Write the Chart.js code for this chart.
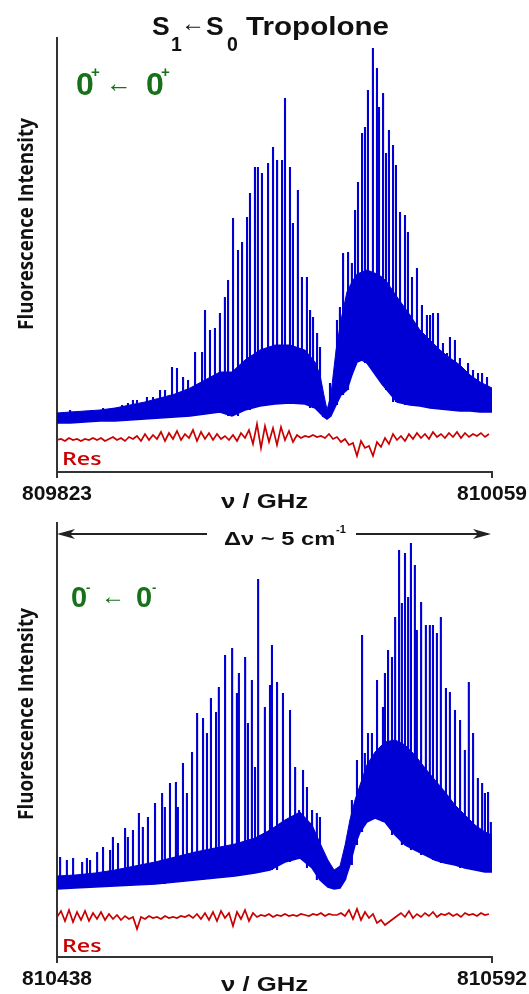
<!DOCTYPE html>
<html>
<head>
<meta charset="utf-8">
<script src="https://cdn.jsdelivr.net/npm/chart.js@4.4.1/dist/chart.umd.min.js"></script>
<style>
  body { margin: 0; background: #fff; }
  #fig { position: relative; width: 529px; height: 994px; overflow: hidden; font-family: "Liberation Sans", Arial, sans-serif; }
  canvas { position: absolute; left: 0; }
  .t { position: absolute; line-height: 1; white-space: nowrap; font-weight: bold; color: #111; transform-origin: 0 0; }
  .g { color: #17701a; }
  .r { color: #c80000; font-family: "Open Sans", Arial, sans-serif; font-weight: 600; }
  .v { transform-origin: 50% 50%; font-family: "Open Sans", Arial, sans-serif; }
</style>
</head>
<body>
<div id="fig">
  <canvas id="topChart" width="529" height="510" style="top:0"></canvas>
  <canvas id="botChart" width="529" height="510" style="top:485px"></canvas>

  <div class="t" style="left:152px;top:12.5px;font-size:26.5px">S</div>
  <div class="t" style="left:171px;top:35.4px;font-size:19.5px">1</div>
  <div class="t" style="left:181px;top:10.6px;font-size:24px">←</div>
  <div class="t" style="left:206px;top:12.5px;font-size:26.5px">S</div>
  <div class="t" style="left:227px;top:35.4px;font-size:19.5px">0</div>
  <div class="t fit" data-w="143" style="left:246px;top:12.5px;font-size:26.5px">Tropolone</div>

  <div class="t g" style="left:76px;top:67.8px;font-size:32px">0</div>
  <div class="t g" style="left:91px;top:64px;font-size:15px">+</div>
  <div class="t g" style="left:106px;top:69.5px;font-size:26px">←</div>
  <div class="t g" style="left:146px;top:67.8px;font-size:32px">0</div>
  <div class="t g" style="left:161px;top:64px;font-size:15px">+</div>

  <div class="t g" style="left:71px;top:583.4px;font-size:29px">0</div>
  <div class="t g" style="left:86px;top:581px;font-size:13px">-</div>
  <div class="t g" style="left:101px;top:583.6px;font-size:24px">←</div>
  <div class="t g" style="left:136px;top:583.4px;font-size:29px">0</div>
  <div class="t g" style="left:152px;top:581px;font-size:13px">-</div>

  <div class="t v rot" style="left:25px;top:224px;font-size:21px">Fluorescence Intensity</div>
  <div class="t v rot" style="left:25px;top:714px;font-size:21px">Fluorescence Intensity</div>

  <div class="t r fit" data-w="40" style="left:62px;top:448.7px;font-size:18px">Res</div>
  <div class="t r fit" data-w="40" style="left:62px;top:935.7px;font-size:18px">Res</div>

  <div class="t fit" data-w="87" style="left:221px;top:490.2px;font-size:21px">ν / GHz</div>
  <div class="t fit" data-w="87" style="left:221px;top:973.2px;font-size:21px">ν / GHz</div>

  <div class="t fit" data-w="112" style="left:224px;top:529.7px;font-size:18px">Δν ~ 5 cm</div>
  <div class="t" style="left:336px;top:523.6px;font-size:11px">-1</div>

  <svg style="position:absolute;left:0;top:0" width="529" height="994">
    <line x1="60" y1="534" x2="207" y2="534" stroke="#222" stroke-width="2"/>
    <polygon points="57,534 75,529 70,534 75,539" fill="#222"/>
    <line x1="356" y1="534" x2="488" y2="534" stroke="#222" stroke-width="2"/>
    <polygon points="491,534 473,529 478,534 473,539" fill="#222"/>
  </svg>
</div>

<script>
// ---- upper panel: 0+ <- 0+ ----
const topOriginGHz = 809823;
const topSpanGHz = 236;
// resolved lines: position (GHz above origin) and peak intensity (a.u.)
const topLineGHz = [7.1, 13.6, 19.0, 25.0, 30.4, 35.3, 38.5, 41.2,
  43.4, 48.8, 52.1, 55.9, 58.6, 62.4, 65.1, 68.4, 71.1, 74.9,
  78.7, 80.3, 83.0, 85.7, 88.4, 91.1, 92.8, 95.5, 98.2, 100.4,
  103.1, 104.7, 107.4, 109.0, 111.2, 114.5, 117.2, 119.4, 122.1, 123.7,
  126.4, 128.0, 130.7, 132.9, 135.6, 137.3, 138.9, 141.1, 142.7, 144.3,
  148.1, 151.9, 153.5, 155.2, 157.9, 160.0, 161.7, 163.3, 165.5, 167.1,
  168.7, 171.4, 173.6, 174.7, 176.9, 178.5, 180.1, 182.3, 183.9, 186.1,
  188.8, 190.4, 192.6, 195.3, 198.0, 200.7, 202.4, 204.0, 206.7, 209.4,
  211.6, 213.2, 215.9, 218.6, 220.3, 223.0, 225.7, 228.4, 230.6, 233.3, 234.9];
const topLineInt = [62, 60, 62, 64, 64, 67, 69, 72,
  72, 75, 75, 82, 82, 105, 104, 95, 92, 120,
  120, 162, 142, 144, 159, 175, 192, 254, 222, 230,
  255, 279, 305, 305, 299, 309, 325, 312, 312, 374,
  305, 249, 282, 195, 195, 162, 155, 139, 125, 75,
  89, 152, 165, 219, 220, 209, 262, 290, 339, 345,
  382, 424, 404, 365, 379, 319, 342, 327, 307, 260,
  257, 240, 195, 204, 167, 157, 157, 159, 159, 129,
  119, 135, 132, 114, 95, 109, 102, 99, 99, 95, 84];
// unresolved dense part: lower and upper edge
const topBandGHz = [0, 7.1, 15.2, 23.3, 31.5, 39.6, 47.7, 55.9, 64.0, 72.2, 80.3, 88.4, 94.9, 102.0, 110.1,
  118.3, 126.4, 134.5, 140.0, 142.7, 144.8, 146.5, 148.6, 151.4, 154.1, 157.3, 160.0, 162.8, 165.5, 168.2,
  170.9, 173.6, 176.3, 179.0, 184.5, 191.5, 196.9, 202.4, 207.8, 213.2, 218.6, 224.1, 229.5, 236.0];
const topBandLow = [49, 49, 50, 51, 51, 52, 53, 54, 55, 56, 58, 60, 56, 62, 66,
  68, 69, 68, 64, 59, 55, 53, 56, 67, 77, 82, 97, 110, 112, 109,
  102, 95, 88, 82, 70, 67, 66, 64, 63, 62, 61, 61, 60, 60];
const topBandHigh = [59, 60, 61, 62, 64, 67, 70, 74, 78, 84, 92, 100, 100, 112, 122,
  127, 127, 122, 110, 97, 77, 62, 77, 122, 152, 180, 190, 198, 200, 202,
  200, 198, 195, 190, 175, 157, 142, 132, 122, 114, 107, 97, 90, 84];
// fit residual, sampled every 2.17 GHz
const topResStepGHz = 2.17;
const topRes = [32, 33, 31, 34, 32, 33, 31, 33, 32, 34,
  32, 34, 31, 33, 35, 32, 34, 31, 35, 33,
  36, 31, 38, 32, 37, 33, 40, 31, 39, 33,
  41, 32, 38, 34, 42, 31, 40, 33, 39, 32,
  38, 33, 36, 32, 37, 31, 39, 34, 42, 28,
  48, 24, 46, 30, 44, 27, 45, 32, 41, 30,
  37, 34, 36, 35, 37, 35, 36, 34, 38, 33,
  35, 30, 33, 27, 29, 16, 31, 24, 26, 16,
  30, 25, 34, 28, 38, 32, 36, 31, 38, 33,
  39, 34, 38, 33, 40, 35, 38, 34, 39, 35,
  40, 34, 39, 35, 38, 36, 39, 35, 38];

// ---- lower panel: 0- <- 0- ----
const botOriginGHz = 810438;
const botSpanGHz = 154;
const botLineGHz = [1.1, 3.5, 5.7, 8.9, 10.6, 11.7, 14.2, 16.3, 18.8, 19.8,
  21.6, 24.1, 25.1, 26.9, 29.0, 30.4, 32.2, 34.7, 37.2, 38.2,
  40.0, 42.1, 42.8, 44.6, 46.0, 47.8, 49.6, 51.7, 53.1, 54.5,
  56.3, 57.3, 59.5, 62.0, 63.7, 64.4, 66.6, 67.6, 69.0, 70.1,
  71.2, 73.6, 75.4, 76.1, 77.9, 80.0, 82.5, 84.3, 85.7, 87.1,
  88.5, 90.3, 92.0, 93.1, 94.2, 102.0, 104.4, 106.2, 108.0, 109.0,
  110.1, 111.5, 113.3, 115.4, 116.1, 117.2, 118.6, 119.7, 121.1, 122.1,
  123.2, 124.3, 125.3, 126.7, 127.4, 128.9, 130.6, 132.0, 133.1, 134.5,
  135.9, 137.7, 139.1, 140.9, 142.7, 144.4, 145.8, 147.3, 149.0, 150.5,
  151.5, 152.6, 153.6];
const botLineInt = [100, 97, 99, 95, 99, 97, 105, 110, 107, 120,
  114, 129, 120, 127, 144, 130, 140, 154, 164, 150,
  174, 175, 150, 194, 164, 205, 244, 239, 224, 259,
  245, 270, 302, 309, 264, 284, 300, 234, 277, 190,
  378, 250, 272, 312, 275, 264, 247, 190, 147, 187,
  170, 147, 144, 140, 104, 104, 157, 197, 322, 204,
  224, 224, 277, 250, 284, 307, 300, 340, 407, 354,
  404, 360, 414, 392, 327, 355, 332, 332, 332, 324,
  340, 269, 265, 247, 237, 207, 275, 224, 179, 174,
  164, 165, 135];
const botBandGHz = [0, 6.4, 13.5, 20.5, 27.6, 34.7, 41.8, 48.9, 55.9, 63.0, 70.1, 75.4, 80.7, 86.0, 90.3,
  93.1, 95.9, 98.1, 100.2, 102.0, 103.7, 105.5, 107.3, 109.7, 112.6, 116.1, 119.7, 123.2, 126.7, 130.3,
  133.8, 137.4, 140.9, 144.4, 148.0, 151.5, 154.0];
const botBandLow = [68, 69, 70, 71, 72, 73, 75, 77, 79, 81, 84, 87, 95, 99, 89,
  77, 70, 68, 69, 77, 92, 112, 125, 135, 139, 135, 122, 112, 107, 102,
  97, 94, 92, 89, 87, 85, 85];
const botBandHigh = [81, 82, 84, 87, 91, 95, 100, 105, 109, 113, 119, 127, 137, 145, 132,
  114, 97, 87, 91, 112, 137, 157, 172, 192, 205, 215, 217, 212, 202, 189,
  177, 165, 152, 142, 132, 125, 122];
const botResStepGHz = 1.416;
const botRes = [40, 46, 36, 47, 35, 45, 37, 46, 36, 44,
  38, 45, 37, 43, 38, 42, 37, 41, 38, 40,
  28, 40, 38, 41, 39, 40, 38, 41, 39, 40,
  39, 41, 40, 42, 39, 43, 38, 44, 37, 45,
  36, 46, 39, 44, 31, 45, 38, 47, 36, 44,
  40, 42, 41, 43, 40, 42, 41, 43, 41, 42,
  41, 43, 42, 41, 43, 42, 44, 41, 43, 42,
  42, 44, 41, 47, 38, 48, 37, 45, 39, 43,
  34, 37, 32, 35, 38, 41, 44, 40, 46, 39,
  43, 40, 44, 41, 45, 40, 43, 42, 44, 41,
  43, 40, 44, 42, 43, 41, 44, 42, 43];

const yMax = 434;
const BLUE = '#0000d4';
const RED = '#c80000';

Chart.defaults.font.family = '"Liberation Sans", Arial, sans-serif';

function nearestIndex(arr, x) {
  let best = 0;
  for (let i = 1; i < arr.length; i++) {
    if (Math.abs(arr[i] - x) < Math.abs(arr[best] - x)) best = i;
  }
  return best;
}

function drawSpectrum(id, origin, span, lineGHz, lineInt, bandGHz, bandLow, bandHigh, resStep, res) {
  // each line is a vertical stroke rising out of the dense band
  const spikes = [];
  lineGHz.forEach((x, i) => {
    const foot = bandLow[nearestIndex(bandGHz, x)];
    spikes.push({ x: x, y: foot }, { x: x, y: lineInt[i] }, { x: x, y: null });
  });
  const upper = bandGHz.map((x, i) => ({ x: x, y: bandHigh[i] }));
  const lower = bandGHz.map((x, i) => ({ x: x, y: bandLow[i] }));
  const resid = res.map((v, i) => ({ x: i * resStep, y: v }));

  new Chart(document.getElementById(id).getContext('2d'), {
    type: 'line',
    data: {
      datasets: [
        { data: spikes, borderColor: BLUE, borderWidth: 2.1, spanGaps: false },
        { data: upper, borderColor: BLUE, borderWidth: 1, backgroundColor: BLUE, fill: '+1' },
        { data: lower, borderColor: BLUE, borderWidth: 1.5 },
        { data: resid, borderColor: RED, borderWidth: 1.7 }
      ]
    },
    options: {
      responsive: false,
      animation: false,
      devicePixelRatio: 1,
      layout: { padding: { left: 57, right: 37, top: 38, bottom: 0 } },
      elements: { point: { radius: 0, hitRadius: 0 }, line: { tension: 0 } },
      plugins: { legend: { display: false }, tooltip: { enabled: false } },
      scales: {
        x: {
          type: 'linear',
          min: 0,
          max: span,
          afterBuildTicks: (axis) => { axis.ticks = [{ value: 0 }, { value: span }]; },
          // keep the plot box where the figure has it; the end labels may overhang
          afterFit: (axis) => { axis.height = 38; axis.paddingLeft = 0; axis.paddingRight = 0; },
          ticks: {
            autoSkip: false,
            maxRotation: 0,
            padding: 4,
            color: '#111',
            font: { size: 21, weight: 'bold' },
            callback: (v) => String(origin + v)
          },
          grid: { drawOnChartArea: false, drawTicks: true, tickLength: 6, color: '#333', lineWidth: 2 },
          border: { display: true, color: '#333', width: 2 }
        },
        y: {
          min: 0,
          max: yMax,
          ticks: { display: false },
          grid: { display: false, drawTicks: false },
          border: { display: true, color: '#333', width: 2 }
        }
      }
    }
  });
}

drawSpectrum('topChart', topOriginGHz, topSpanGHz, topLineGHz, topLineInt,
  topBandGHz, topBandLow, topBandHigh, topResStepGHz, topRes);
drawSpectrum('botChart', botOriginGHz, botSpanGHz, botLineGHz, botLineInt,
  botBandGHz, botBandLow, botBandHigh, botResStepGHz, botRes);

// stretch text pieces to the widths they have in the figure
document.querySelectorAll('.fit').forEach((el) => {
  const k = Number(el.dataset.w) / el.offsetWidth;
  el.style.transform = 'scaleX(' + k + ')';
});
document.querySelectorAll('.rot').forEach((el) => {
  const k = 212 / el.offsetWidth;
  el.style.transform = 'translate(-50%, -50%) rotate(-90deg) scaleX(' + k + ')';
});
</script>
</body>
</html>
